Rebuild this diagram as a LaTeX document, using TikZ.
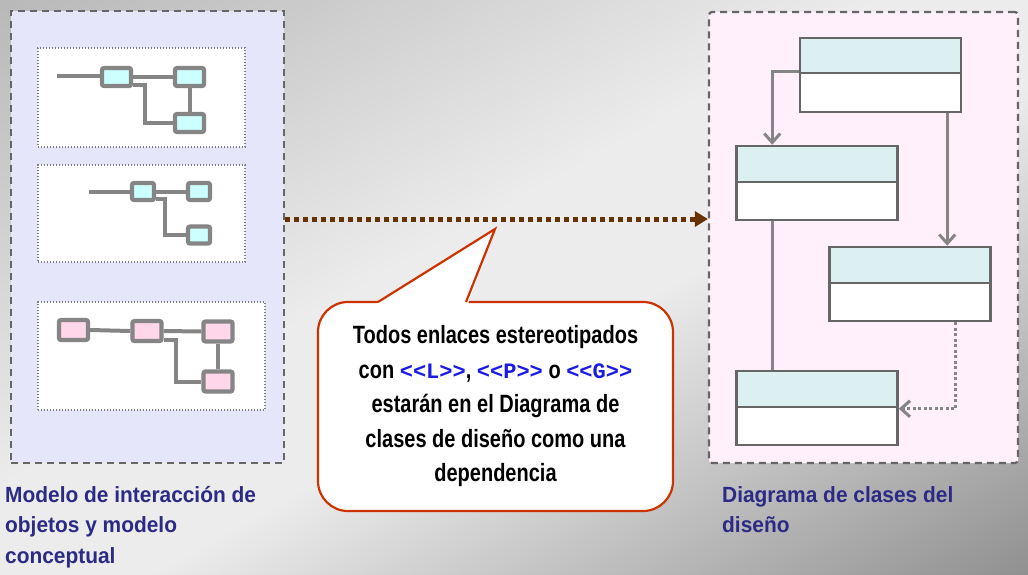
\documentclass[tikz,border=0pt]{standalone}
\usepackage{fontspec}
\setmainfont{Liberation Sans}
\newfontfamily\lblfont[FakeStretch=0.95]{Liberation Sans}
\newfontfamily\bubfont[FakeStretch=0.8]{Liberation Sans}
\newfontfamily\bubmono{Liberation Mono}
\usetikzlibrary{arrows.meta}
\definecolor{bgA}{HTML}{9C9C9C}
\definecolor{bgB}{HTML}{ECECEC}
\definecolor{bgC}{HTML}{5E5E5E}
\definecolor{lavender}{HTML}{E6E6FB}
\definecolor{pinkpanel}{HTML}{FFF0FC}
\definecolor{dashgray}{HTML}{666666}
\definecolor{dotgray}{HTML}{808080}
\definecolor{minigray}{HTML}{858585}
\definecolor{cyanfill}{HTML}{CCFFFF}
\definecolor{pinkfill}{HTML}{FFD6EA}
\definecolor{umlgray}{HTML}{666666}
\definecolor{umlhead}{HTML}{DCF0F2}
\definecolor{conngray}{HTML}{858585}
\definecolor{brownc}{HTML}{663300}
\definecolor{bubred}{HTML}{CC3300}
\definecolor{lblblue}{HTML}{2B2B85}
\definecolor{monoblue}{HTML}{1A1AE6}
\pgfdeclarehorizontalshading{bgshade}{100bp}{color(0bp)=(bgA); color(45bp)=(bgB); color(55bp)=(bgB); color(100bp)=(bgC)}
\newcommand\stereo[1]{{\color{monoblue}\bubmono\bfseries\fontsize{22}{34.5}\selectfont #1}}
\begin{document}
\begin{tikzpicture}[x=1pt,y=-1pt,
  mini/.style={draw=minigray, line width=4.2pt, rounded corners=2pt, minimum width=29pt, minimum height=18pt, inner sep=0pt},
  cyanbox/.style={mini, fill=cyanfill},
  pinkbox/.style={mini, fill=pinkfill, minimum height=20pt},
  miniline/.style={draw=minigray, line width=4pt},
  subbox/.style={draw=dotgray, line width=1.2pt, dash pattern=on 1.4pt off 1.6pt, fill=white, inner sep=0pt},
  panel/.style={draw=dashgray, line width=2.2pt, dash pattern=on 7pt off 5pt, inner sep=0pt},
  hdr/.style={draw=umlgray, line width=2.5pt, fill=umlhead, minimum width=161pt, minimum height=36pt, inner sep=0pt},
  bdy/.style={draw=umlgray, line width=2.5pt, fill=white, minimum width=161pt, minimum height=38pt, inner sep=0pt},
  conn/.style={draw=conngray, line width=3pt},
  vee/.style={-{Straight Barb[length=9pt,width=16pt,line width=3pt]}},
  lbl/.style={anchor=north west, font=\lblfont\bfseries\fontsize{22}{30.5}\selectfont, text=lblblue, align=left, inner sep=0pt}
]
\useasboundingbox (0,0) rectangle (1028,574);
\shade[shading=bgshade, shading angle=-61] (0,0) rectangle (1028,574);

% panels
\node[panel, fill=lavender, minimum width=273pt, minimum height=452pt] (lp) at (147.5,237) {};
\node[panel, fill=pinkpanel, rounded corners=3pt, minimum width=309pt, minimum height=451pt] (rp) at (863.5,237.5) {};

% sub boxes
\node[subbox, minimum width=207pt, minimum height=99pt] (s1) at (141.5,97.5) {};
\node[subbox, minimum width=207pt, minimum height=97pt] (s2) at (141.5,213.5) {};
\node[subbox, minimum width=227pt, minimum height=108pt] (s3) at (151.5,356) {};

% mini diagram 1
\node[cyanbox] (a1) at (116.5,77) {};
\node[cyanbox] (b1) at (189.5,77) {};
\node[cyanbox] (c1) at (189.5,123) {};
\coordinate (a0) at (57,76);
\draw[miniline] (a0) -- (a0 -| a1.west);
\draw[miniline] (a1.east) -- (b1.west);
\draw[miniline] (b1.south) -- (c1.north);
\draw[miniline] ([yshift=-8pt]a1.east) -- ++(12,0) |- (c1.west);

% mini diagram 2
\node[cyanbox, minimum width=22pt, minimum height=17pt] (d2) at (143,191.5) {};
\node[cyanbox, minimum width=22pt, minimum height=17pt] (e2) at (199,191.5) {};
\node[cyanbox, minimum width=22pt, minimum height=17pt] (f2) at (199,235) {};
\coordinate (d0) at (89,191.5);
\draw[miniline] (d0) -- (d2.west);
\draw[miniline] (d2.east) -- (e2.west);
\draw[miniline] ([yshift=-7pt]d2.east) -- ++(9,0) |- (f2.west);

% mini diagram 3
\node[pinkbox] (g3) at (73.5,330) {};
\node[pinkbox] (h3) at (147,331) {};
\node[pinkbox] (i3) at (218,331.5) {};
\node[pinkbox] (j3) at (218,381.5) {};
\draw[miniline] (g3.east) -- (h3.west);
\draw[miniline] (h3.east) -- (i3.west);
\draw[miniline] (i3.south) -- (j3.north);
\draw[miniline] ([yshift=-9pt]h3.east) -- ++(12,0) |- (j3.west);

% UML classes
\node[hdr, minimum height=35pt] (k1h) at (880.5,55.5) {};
\node[bdy, minimum height=39pt] (k1b) at (880.5,92.5) {};
\node[hdr] (k2h) at (817,164) {};
\node[bdy] (k2b) at (817,201) {};
\node[hdr] (k3h) at (910,265) {};
\node[bdy] (k3b) at (910,302) {};
\node[hdr] (k4h) at (817,389) {};
\node[bdy] (k4b) at (817,426) {};

% UML connectors
\draw[conn, vee] (k1b.north west) -| ([xshift=37pt]k2h.north west);
\coordinate (t2) at ([xshift=-15pt]k1b.south east);
\draw[conn, vee] (t2) -- (t2 |- k3h.north);
\draw[conn] ([xshift=37pt]k2b.south west) -- ([xshift=37pt]k4h.north west);
\coordinate (t4) at ([xshift=-36pt]k3b.south east);
\draw[conn, dash pattern=on 3pt off 2.5pt, vee] (t4) |- ([yshift=-3pt]k4b.north east);

% dependency arrow
\draw[brownc, line width=5pt, dash pattern=on 5pt off 4pt, -{Triangle[length=13pt,width=15pt]}] ([yshift=18pt]lp.east) -- ([yshift=18.5pt]rp.west);

% callout
\node[draw=bubred, line width=2.2pt, fill=white, rounded corners=30pt, minimum width=355pt, minimum height=209pt, inner sep=0pt] (bub) at (495.5,406.5) {};
\fill[white] (376,304) -- (495,229) -- (468,304) -- cycle;
\draw[bubred, line width=2.2pt, line join=miter] (378,302) -- (495,229) -- (466,302);
\node[font=\bubfont\bfseries\fontsize{25}{34.5}\selectfont, align=center, inner sep=0pt] (btext) at (bub.center) {Todos enlaces estereotipados\\con \stereo{<<L>>}, \stereo{<<P>>} o \stereo{<<G>>}\\estarán en el Diagrama de\\clases de diseño como una\\dependencia};

% labels
\node[lbl] (lbl1) at (5,486) {Modelo de interacción de\\objetos y modelo\\conceptual};
\node[lbl] (lbl2) at (722,486) {Diagrama de clases del\\diseño};
\end{tikzpicture}
\end{document}
